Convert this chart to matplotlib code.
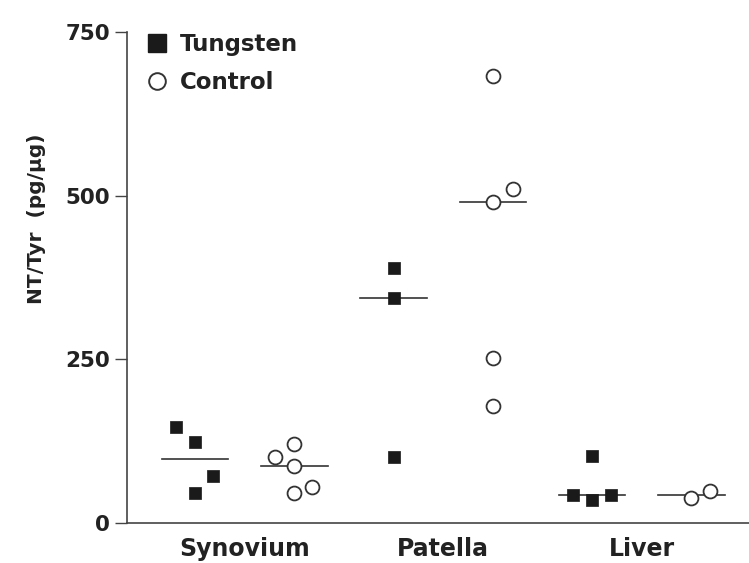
import numpy as np
import matplotlib
matplotlib.use('Agg')
import matplotlib.pyplot as plt
from matplotlib.lines import Line2D

# Data (NT/Tyr, pg/ug)
tissues = ['Synovium', 'Patella', 'Liver']
tungsten = [
    [147, 123, 71, 46],          # Synovium
    [389, 343, 101],             # Patella
    [102, 43, 35, 43],           # Liver
]
control = [
    [101, 120, 87, 55, 46],      # Synovium
    [683, 510, 490, 252, 178],   # Patella
    [37, 48],                    # Liver
]
# horizontal jitter of the points inside each group
tungsten_jitter = [[-0.19, 0, 0.18, 0], [0, 0, 0], [0, -0.19, 0, 0.19]]
control_jitter = [[-0.19, 0, 0, 0.18, 0], [0, 0.2, 0, 0, 0], [0, 0.19]]

ink = '#222222'
plt.rcParams['font.family'] = ['DejaVu Sans']
plt.rcParams['font.weight'] = 'bold'

fig = plt.figure(figsize=(7.49, 5.63), dpi=100)
ax = fig.add_axes([0.1696, 0.0716, 0.8304, 0.8716])

half = 0.335
for i, tissue in enumerate(tissues):
    xt = 2 * i + 1
    xc = 2 * i + 2
    # median lines
    ax.plot([xt - half, xt + half], [np.median(tungsten[i])] * 2, color='#333333', lw=1.2, zorder=1)
    ax.plot([xc - half, xc + half], [np.median(control[i])] * 2, color='#333333', lw=1.2, zorder=1)
    # points
    ax.scatter(xt + np.array(tungsten_jitter[i]), tungsten[i], marker='s', s=80,
               color='#1a1a1a', edgecolor='#1a1a1a', linewidth=0.5, zorder=3)
    ax.scatter(xc + np.array(control_jitter[i]), control[i], marker='o', s=100,
               facecolor='white', edgecolor='#333333', linewidth=1.3, zorder=3)

ax.set_xlim(0.315, 6.58)
ax.set_ylim(0, 750)
ax.set_yticks([0, 250, 500, 750])
ax.set_xticks([1.5, 3.5, 5.5])
ax.set_xticklabels(tissues)

ax.spines['top'].set_visible(False)
ax.spines['right'].set_visible(False)
for side in ['left', 'bottom']:
    ax.spines[side].set_color('#444444')
    ax.spines[side].set_linewidth(1.2)

ax.tick_params(axis='y', length=8.5, width=1.0, color='#444444', pad=3.5,
               labelsize=15.5, labelcolor=ink)
ax.tick_params(axis='x', length=0, pad=10, labelsize=17, labelcolor=ink)

ax.set_ylabel('NT/Tyr  (pg/\u00b5g)', fontsize=14.5, color=ink, fontweight='bold')
ax.yaxis.set_label_coords(-0.13, 0.619)

# Legend
handles = [
    Line2D([], [], marker='s', linestyle='none', markersize=12.5,
           color='#1a1a1a'),
    Line2D([], [], marker='o', linestyle='none', markersize=12,
           markerfacecolor='white', markeredgecolor='#333333', markeredgewidth=1.4),
]
leg = ax.legend(handles, ['Tungsten', 'Control'], loc='upper left',
                bbox_to_anchor=(0.034, 0.997), frameon=False, borderpad=0,
                borderaxespad=0, handlelength=0.8, handletextpad=0.58,
                labelspacing=0.62, fontsize=16.5)
for t in leg.get_texts():
    t.set_color(ink)

plt.savefig('out.png', dpi=100)
plt.close()
